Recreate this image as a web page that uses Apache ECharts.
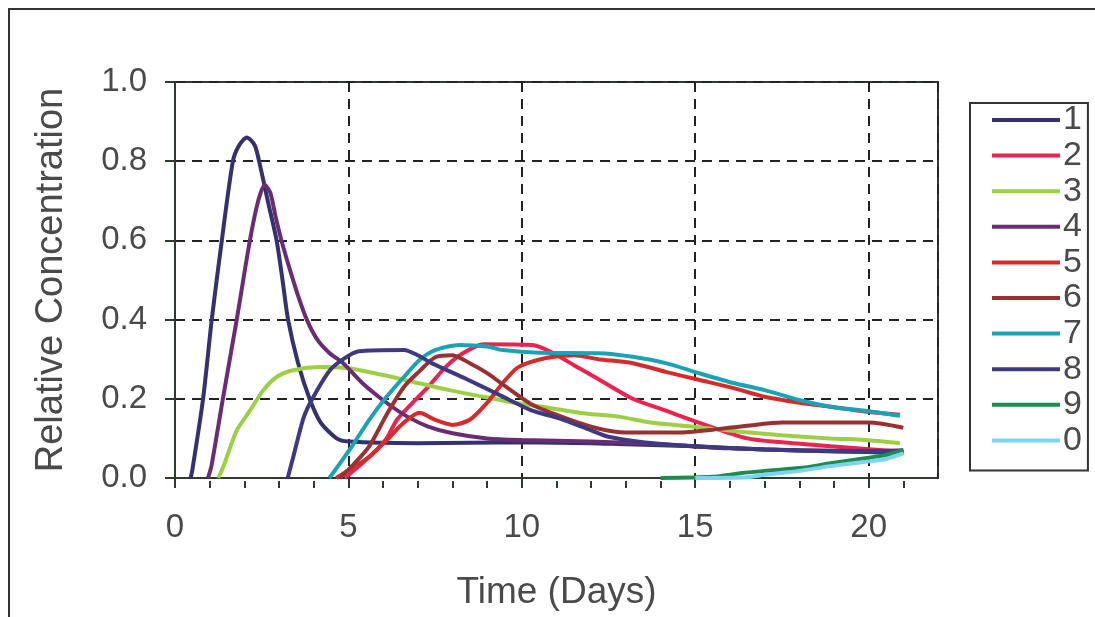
<!DOCTYPE html>
<html>
<head>
<meta charset="utf-8">
<script src="https://cdn.jsdelivr.net/npm/echarts@6/dist/echarts.min.js"></script>
<style>
html,body{margin:0;padding:0;background:#fff;}
#chart{width:1095px;height:617px;}
</style>
</head>
<body>
<div id="chart"></div>
<script>
// ---- data (time in days, relative concentration) ----
const seriesNames = ['1','2','3','4','5','6','7','8','9','0'];
const xTickLabels = [0, 5, 10, 15, 20];
const yTicks = [0, 0.2, 0.4, 0.6, 0.8, 1.0];

const s1 = [[0.45,0],[0.5,0.02],[0.81,0.2],[1.06,0.4],[1.35,0.6],[1.67,0.8],[1.85,0.84],[2.07,0.86],[2.3,0.84],[2.45,0.79],[2.7,0.69],[2.93,0.6],[3.1,0.5],[3.26,0.4],[3.55,0.29],[3.88,0.2],[4.2,0.14],[4.66,0.1],[5.0,0.092],[7,0.088],[10,0.09],[12,0.088],[13,0.085],[15,0.08],[17,0.072],[19,0.067],[21,0.064]];
const s2 = [[4.9,0],[5.3,0.03],[5.8,0.07],[6.1,0.1],[6.4,0.147],[6.85,0.19],[7.3,0.23],[7.8,0.28],[8.3,0.315],[8.9,0.338],[10.3,0.336],[10.8,0.32],[11.5,0.285],[12.2,0.25],[13.2,0.2],[14.15,0.17],[15.1,0.14],[16.5,0.10],[17.5,0.09],[18.9,0.08],[20.4,0.07],[21,0.066]];
const s3 = [[1.25,0],[1.4,0.03],[1.78,0.12],[2.16,0.17],[2.53,0.22],[2.93,0.255],[3.4,0.272],[4.17,0.28],[5.0,0.277],[6,0.26],[7,0.24],[7.9,0.222],[8.9,0.205],[9.8,0.19],[10.8,0.177],[11.7,0.164],[12.8,0.155],[13.7,0.14],[14.9,0.13],[16.3,0.117],[17.5,0.108],[18.9,0.1],[19.9,0.096],[20.9,0.088]];
const s4 = [[0.95,0],[1.05,0.03],[1.38,0.2],[1.78,0.4],[2.16,0.6],[2.4,0.7],[2.59,0.74],[2.75,0.72],[2.9,0.66],[3.07,0.6],[3.3,0.53],[3.55,0.46],[3.8,0.4],[4.1,0.35],[4.46,0.315],[4.85,0.29],[5.4,0.24],[6.1,0.19],[6.7,0.155],[7.3,0.13],[8.0,0.113],[9,0.1],[10,0.096],[12,0.092],[14,0.085],[16,0.075],[18,0.07],[20,0.068],[21,0.07]];
const s5 = [[4.65,0],[5.0,0.02],[5.6,0.053],[6.1,0.095],[6.6,0.14],[7.05,0.165],[7.5,0.147],[8.0,0.134],[8.5,0.147],[9.0,0.19],[9.45,0.24],[9.9,0.28],[10.7,0.303],[11.5,0.31],[12.2,0.30],[13.2,0.29],[14.15,0.268],[15.1,0.248],[16.1,0.227],[17,0.205],[18,0.19],[18.9,0.18],[19.9,0.168],[20.9,0.16]];
const s6 = [[4.75,0],[5.1,0.03],[5.6,0.08],[6.1,0.16],[6.6,0.23],[7.05,0.27],[7.5,0.305],[8.0,0.31],[8.5,0.29],[9.0,0.265],[9.55,0.23],[10.3,0.185],[11.3,0.15],[12.2,0.125],[13,0.115],[14.5,0.115],[15.5,0.122],[16.5,0.132],[17.5,0.14],[20,0.14],[21,0.127]];
const s7 = [[4.45,0],[4.7,0.03],[5.1,0.08],[5.6,0.147],[6.1,0.205],[6.6,0.255],[7.05,0.298],[7.5,0.323],[8.2,0.336],[9.0,0.332],[9.45,0.323],[10.5,0.316],[12.2,0.315],[13.2,0.306],[14.15,0.29],[15.1,0.265],[16.1,0.24],[17,0.222],[18,0.197],[18.9,0.18],[19.9,0.17],[20.9,0.157]];
const s8 = [[3.25,0],[3.4,0.05],[3.7,0.15],[3.93,0.195],[4.45,0.27],[4.85,0.30],[5.3,0.32],[6.6,0.323],[7.0,0.31],[7.4,0.29],[8.4,0.25],[9.35,0.21],[10.3,0.17],[11.1,0.15],[12.0,0.12],[12.5,0.104],[13.5,0.09],[15,0.08],[17,0.072],[19,0.068],[21,0.066]];
const s9 = [[14,0],[15.5,0.003],[16.3,0.012],[17,0.018],[18,0.025],[18.9,0.037],[19.9,0.05],[20.5,0.058],[21,0.07]];
const s0 = [[15,0],[16.5,0.002],[17,0.008],[18,0.018],[18.9,0.03],[20,0.042],[20.5,0.048],[21,0.062]];

const seriesData = [s1, s2, s3, s4, s5, s6, s7, s8, s9, s0];
const colors = ['#35306e','#ea2350','#9ccf45','#6a2c72','#d52b2b','#983232','#1aa3b5','#3f3a80','#1e8c50','#7dd3f0'];

const FONT = 'Liberation Sans, Arial, sans-serif';
const TXT = '#4a4a4a';
const AX = '#2d3a2d';

// plot geometry: x range 0..22 days over 763 px
const X_MAX = 22, PLOT_L = 175, PLOT_W = 763, PLOT_T = 82, PLOT_H = 396;
const pxPerDay = PLOT_W / X_MAX;

const chart = echarts.init(document.getElementById('chart'), null, {renderer: 'canvas'});
chart.setOption({
  animation: false,
  backgroundColor: '#ffffff',
  color: colors,
  grid: [
    {left: PLOT_L, top: PLOT_T, width: PLOT_W, height: PLOT_H, show: true, borderColor: AX, borderWidth: 2, backgroundColor: 'transparent'},
    {left: PLOT_L, top: PLOT_T, width: pxPerDay * 20, height: PLOT_H, show: false},
    {left: PLOT_L, top: PLOT_T + PLOT_H, width: pxPerDay * 21, height: 10, show: false}
  ],
  legend: {
    data: seriesNames,
    orient: 'vertical',
    left: 970, top: 103,
    icon: 'rect',
    itemWidth: 68, itemHeight: 4, itemGap: 1.6,
    padding: [0, 6, 13, 22],
    borderColor: '#333', borderWidth: 2,
    textStyle: {fontFamily: FONT, fontSize: 34, color: TXT, lineHeight: 34, padding: [0,0,0,-2]}
  },
  xAxis: [{
    gridIndex: 0, type: 'value', min: 0, max: X_MAX, interval: 5, position: 'bottom',
    name: 'Time (Days)', nameLocation: 'middle', nameGap: 96,
    nameTextStyle: {fontFamily: FONT, fontSize: 37, color: TXT},
    axisLine: {show: true, onZero: false, lineStyle: {color: AX, width: 2}},
    axisTick: {show: false},
    axisLabel: {fontFamily: FONT, fontSize: 33, color: TXT, margin: 33,
      showMinLabel: true, showMaxLabel: false,
      formatter: v => (xTickLabels.indexOf(v) >= 0 ? String(v) : '')},
    splitLine: {show: true, lineStyle: {color: '#222', width: 2, type: [10, 7]}}
  }, {
    gridIndex: 1, type: 'value', min: 0, max: 20, interval: 5, position: 'bottom',
    axisLine: {show: false},
    axisTick: {show: true, length: 10, lineStyle: {color: AX, width: 2}},
    axisLabel: {show: false},
    splitLine: {show: false}
  }, {
    gridIndex: 2, type: 'value', min: 0, max: 21, interval: 1, position: 'top',
    axisLine: {show: false},
    axisTick: {show: true, length: 7, lineStyle: {color: AX, width: 2}},
    axisLabel: {show: false},
    splitLine: {show: false}
  }],
  yAxis: [{
    gridIndex: 0, type: 'value', min: 0, max: 1, interval: 0.2,
    name: 'Relative Concentration', nameLocation: 'middle', nameGap: 104,
    nameTextStyle: {fontFamily: FONT, fontSize: 38, color: TXT},
    axisLine: {show: true, onZero: false, lineStyle: {color: AX, width: 2}},
    axisTick: {show: true, length: 10, lineStyle: {color: AX, width: 2}},
    axisLabel: {fontFamily: FONT, fontSize: 33, color: TXT, margin: 28, formatter: v => v.toFixed(1)},
    splitLine: {show: true, lineStyle: {color: '#222', width: 2, type: [10, 7]}}
  }, {
    gridIndex: 1, type: 'value', min: 0, max: 1, show: false
  }, {
    gridIndex: 2, type: 'value', min: 0, max: 1, show: false
  }],
  graphic: [{
    type: 'polyline', silent: true,
    shape: {points: [[9, 617], [9, 9], [1095, 9]]},
    style: {stroke: '#333', lineWidth: 2, fill: null}
  }],
  series: seriesNames.map((n, i) => ({
    name: n, type: 'line', xAxisIndex: 0, yAxisIndex: 0, data: seriesData[i],
    showSymbol: false, symbol: 'none', smooth: 0.25,
    lineStyle: {width: 4, color: colors[i]},
    itemStyle: {color: colors[i]},
    z: 3
  }))
});
</script>
</body>
</html>
